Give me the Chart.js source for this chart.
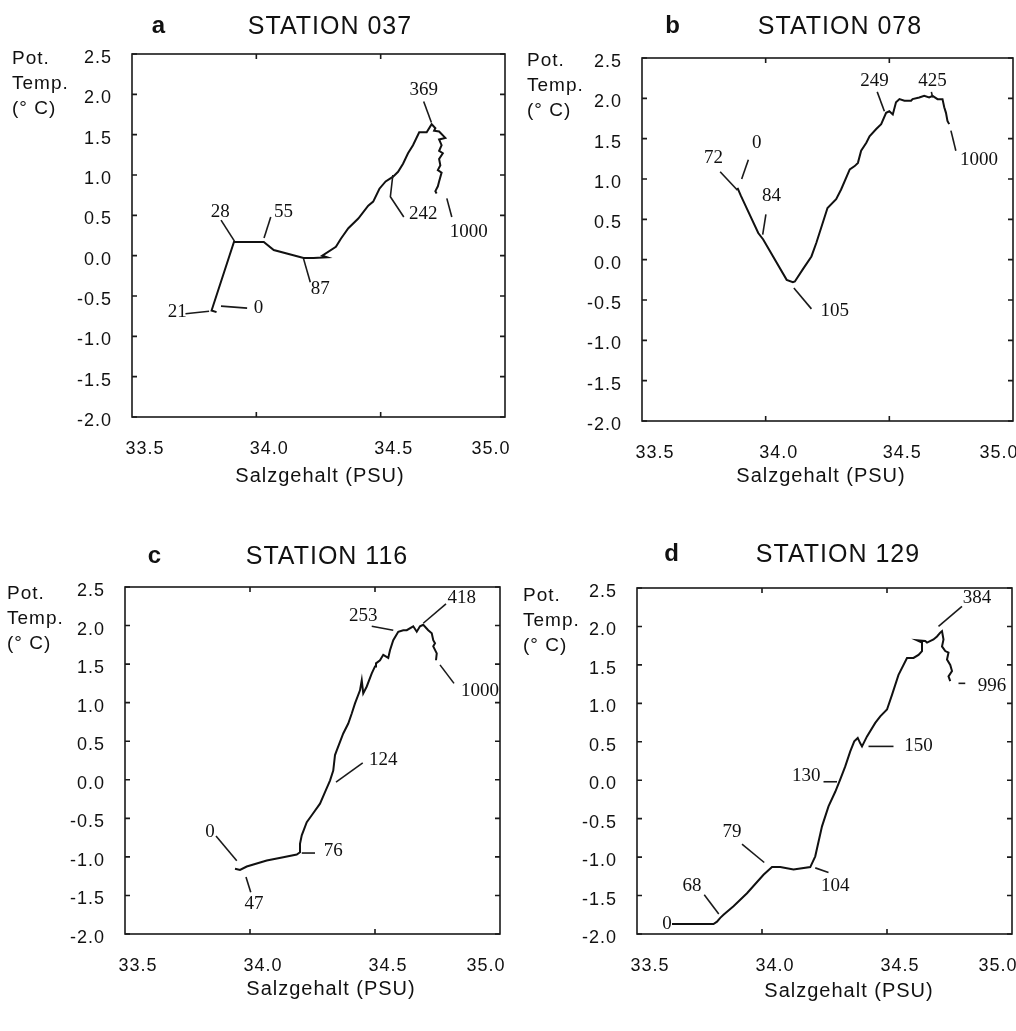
<!DOCTYPE html>
<html>
<head>
<meta charset="utf-8">
<script src="https://cdn.jsdelivr.net/npm/chart.js@4.4.1/dist/chart.umd.min.js"></script>
<style>
body { margin: 0; background: #fff; }
#page { position: relative; width: 1016px; height: 1031px; overflow: hidden; font-family: "Liberation Sans", Arial, sans-serif; color: #111; }
canvas { position: absolute; }
.t { position: absolute; transform: translate(-50%, -50%); white-space: nowrap; letter-spacing: 1px; }
.letter { font-weight: bold; font-size: 24px; }
.station { font-size: 25px; }
.xt { font-size: 20px; }
.yt { position: absolute; font-size: 19px; line-height: 25px; letter-spacing: 1px; }
</style>
</head>
<body>
<div id="page">
  <canvas id="st037" width="540" height="470" style="left:0;top:0"></canvas>
  <canvas id="st078" width="500" height="470" style="left:516px;top:0"></canvas>
  <canvas id="st116" width="540" height="500" style="left:0;top:500px"></canvas>
  <canvas id="st129" width="500" height="500" style="left:516px;top:500px"></canvas>

  <div class="t letter" style="left:159px;top:25px">a</div>
  <div class="t station" style="left:330px;top:25px">STATION 037</div>
  <div class="t letter" style="left:673px;top:25px">b</div>
  <div class="t station" style="left:840px;top:25px">STATION 078</div>
  <div class="t letter" style="left:155px;top:555px">c</div>
  <div class="t station" style="left:327px;top:555px">STATION 116</div>
  <div class="t letter" style="left:672px;top:553px">d</div>
  <div class="t station" style="left:838px;top:553px">STATION 129</div>

  <div class="yt" style="left:12px;top:45px">Pot.<br>Temp.<br>(° C)</div>
  <div class="yt" style="left:527px;top:47px">Pot.<br>Temp.<br>(° C)</div>
  <div class="yt" style="left:7px;top:580px">Pot.<br>Temp.<br>(° C)</div>
  <div class="yt" style="left:523px;top:582px">Pot.<br>Temp.<br>(° C)</div>

  <div class="t xt" style="left:320px;top:475px">Salzgehalt (PSU)</div>
  <div class="t xt" style="left:821px;top:475px">Salzgehalt (PSU)</div>
  <div class="t xt" style="left:331px;top:988px">Salzgehalt (PSU)</div>
  <div class="t xt" style="left:849px;top:990px">Salzgehalt (PSU)</div>
</div>
<script>
// Achsen
const xTickValues = [33.5, 34.0, 34.5, 35.0];
const xTickLabels = ['33.5', '34.0', '34.5', '35.0'];
const yTickValues = [-2.0, -1.5, -1.0, -0.5, 0.0, 0.5, 1.0, 1.5, 2.0, 2.5];
const yTickLabels = ['-2.0', '-1.5', '-1.0', '-0.5', '0.0', '0.5', '1.0', '1.5', '2.0', '2.5'];

// Station 037 (a)
const salt037 = [33.84, 33.82, 33.91, 34.03, 34.07, 34.19, 34.23, 34.285, 34.265, 34.32, 34.34, 34.37, 34.41, 34.45, 34.47, 34.495, 34.52, 34.55, 34.57, 34.59, 34.61, 34.63, 34.655, 34.685, 34.705, 34.72, 34.715, 34.735, 34.76, 34.735, 34.745, 34.735, 34.75, 34.735, 34.74, 34.73, 34.745, 34.735, 34.73, 34.72, 34.725];
const temp037 = [-0.70, -0.68, 0.17, 0.17, 0.07, -0.03, -0.03, -0.02, 0.00, 0.11, 0.21, 0.34, 0.46, 0.62, 0.67, 0.83, 0.92, 0.98, 1.04, 1.14, 1.27, 1.37, 1.53, 1.53, 1.63, 1.58, 1.55, 1.54, 1.46, 1.44, 1.37, 1.30, 1.27, 1.20, 1.12, 1.06, 1.03, 0.92, 0.86, 0.80, 0.77];
const depths037 = [
  { text: '0', at: [34.009, -0.65], line: [[33.858, -0.625], [33.963, -0.65]] },
  { text: '21', at: [33.682, -0.70], line: [[33.715, -0.72], [33.81, -0.69]] },
  { text: '28', at: [33.855, 0.54], line: [[33.858, 0.44], [33.912, 0.18]] },
  { text: '55', at: [34.109, 0.54], line: [[34.058, 0.48], [34.031, 0.22]] },
  { text: '87', at: [34.257, -0.41], line: [[34.19, -0.04], [34.217, -0.33]] },
  { text: '242', at: [34.671, 0.52], line: [[34.549, 1.0], [34.539, 0.73], [34.593, 0.48]] },
  { text: '369', at: [34.673, 2.05], line: [[34.673, 1.91], [34.704, 1.65]] },
  { text: '1000', at: [34.854, 0.29], line: [[34.766, 0.71], [34.786, 0.48]] }
];

// Station 078 (b)
const salt078 = [33.886, 33.90, 33.97, 33.99, 34.085, 34.11, 34.118, 34.15, 34.185, 34.205, 34.25, 34.285, 34.305, 34.34, 34.36, 34.373, 34.386, 34.407, 34.42, 34.447, 34.467, 34.487, 34.50, 34.514, 34.527, 34.541, 34.561, 34.588, 34.594, 34.621, 34.641, 34.661, 34.675, 34.695, 34.715, 34.722, 34.729, 34.735, 34.742];
const temp078 = [0.89, 0.79, 0.33, 0.25, -0.25, -0.28, -0.27, -0.12, 0.04, 0.21, 0.64, 0.75, 0.87, 1.12, 1.16, 1.20, 1.35, 1.45, 1.53, 1.62, 1.68, 1.82, 1.84, 1.80, 1.95, 1.99, 1.97, 1.97, 1.99, 2.01, 2.03, 2.01, 2.03, 1.99, 1.99, 1.89, 1.82, 1.72, 1.68];
const depths078 = [
  { text: '72', at: [33.789, 1.26], line: [[33.816, 1.09], [33.886, 0.86]] },
  { text: '0', at: [33.964, 1.45], line: [[33.93, 1.24], [33.903, 1.0]] },
  { text: '84', at: [34.024, 0.79], line: [[34.001, 0.56], [33.988, 0.31]] },
  { text: '105', at: [34.279, -0.64], line: [[34.114, -0.35], [34.185, -0.61]] },
  { text: '249', at: [34.44, 2.22], line: [[34.451, 2.08], [34.48, 1.84]] },
  { text: '425', at: [34.675, 2.22], line: [[34.67, 2.08], [34.675, 2.01]] },
  { text: '1000', at: [34.863, 1.24], line: [[34.749, 1.60], [34.769, 1.35]] }
];

// Station 116 (c)
const salt116 = [33.94, 33.96, 33.987, 34.067, 34.133, 34.187, 34.20, 34.20, 34.207, 34.227, 34.247, 34.28, 34.30, 34.32, 34.333, 34.34, 34.347, 34.373, 34.393, 34.407, 34.42, 34.44, 34.447, 34.453, 34.467, 34.487, 34.50, 34.504, 34.52, 34.533, 34.553, 34.56, 34.573, 34.593, 34.613, 34.627, 34.653, 34.667, 34.68, 34.693, 34.713, 34.727, 34.733, 34.74, 34.733, 34.747, 34.744];
const temp116 = [-1.155, -1.17, -1.125, -1.047, -1.004, -0.969, -0.94, -0.83, -0.72, -0.55, -0.46, -0.31, -0.16, -0.01, 0.12, 0.32, 0.38, 0.60, 0.73, 0.86, 0.99, 1.16, 1.29, 1.12, 1.21, 1.38, 1.47, 1.51, 1.55, 1.62, 1.58, 1.68, 1.81, 1.92, 1.94, 1.94, 1.99, 1.92, 1.99, 2.01, 1.94, 1.90, 1.81, 1.77, 1.73, 1.64, 1.55];
const depths116 = [
  { text: '0', at: [33.84, -0.68], line: [[33.864, -0.73], [33.947, -1.05]] },
  { text: '47', at: [34.016, -1.61], line: [[33.984, -1.26], [34.003, -1.46]] },
  { text: '76', at: [34.333, -0.92], line: [[34.207, -0.95], [34.26, -0.95]] },
  { text: '124', at: [34.533, 0.25], line: [[34.344, -0.03], [34.451, 0.22]] },
  { text: '253', at: [34.453, 2.12], line: [[34.487, 1.99], [34.573, 1.94]] },
  { text: '418', at: [34.847, 2.36], line: [[34.693, 2.03], [34.784, 2.28]] },
  { text: '1000', at: [34.92, 1.15], line: [[34.76, 1.49], [34.816, 1.25]] }
];

// Station 129 (d)
const salt129 = [33.64, 33.806, 33.82, 33.833, 33.846, 33.886, 33.94, 34.006, 34.04, 34.073, 34.126, 34.193, 34.213, 34.24, 34.266, 34.293, 34.313, 34.333, 34.353, 34.369, 34.383, 34.393, 34.40, 34.42, 34.453, 34.473, 34.50, 34.52, 34.546, 34.58, 34.606, 34.626, 34.64, 34.64, 34.62, 34.653, 34.66, 34.686, 34.70, 34.713, 34.72, 34.726, 34.72, 34.733, 34.746, 34.74, 34.753, 34.76, 34.746, 34.753];
const temp129 = [-1.87, -1.87, -1.84, -1.79, -1.75, -1.64, -1.47, -1.23, -1.13, -1.13, -1.16, -1.13, -0.99, -0.60, -0.34, -0.15, 0.01, 0.18, 0.375, 0.505, 0.55, 0.48, 0.44, 0.57, 0.745, 0.83, 0.92, 1.11, 1.37, 1.59, 1.59, 1.63, 1.68, 1.79, 1.82, 1.81, 1.79, 1.83, 1.87, 1.92, 1.94, 1.83, 1.74, 1.68, 1.66, 1.57, 1.50, 1.42, 1.35, 1.29];
const depths129 = [
  { text: '0', at: [33.62, -1.87], line: [] },
  { text: '68', at: [33.72, -1.38], line: [[33.769, -1.49], [33.827, -1.74]] },
  { text: '79', at: [33.88, -0.67], line: [[33.92, -0.83], [34.009, -1.07]] },
  { text: '104', at: [34.293, -1.38], line: [[34.213, -1.14], [34.266, -1.20]] },
  { text: '130', at: [34.177, 0.05], line: [[34.246, -0.02], [34.30, -0.02]] },
  { text: '150', at: [34.626, 0.45], line: [[34.426, 0.44], [34.526, 0.44]] },
  { text: '384', at: [34.86, 2.37], line: [[34.706, 2.0], [34.80, 2.26]] },
  { text: '996', at: [34.92, 1.22], line: [[34.786, 1.26], [34.813, 1.26]] }
];

function findLabel(values, labels, v) {
  const i = values.findIndex(t => Math.abs(t - v) < 1e-6);
  return i < 0 ? '' : labels[i];
}

// Rahmen, Innenticks und Tiefenbeschriftungen
function decor(notes) {
  return {
    id: 'decor',
    beforeDraw(chart) {
      chart.ctx.letterSpacing = '1px';
    },
    afterDraw(chart) {
      const { ctx, chartArea: a, scales: { x, y } } = chart;
      ctx.save();
      ctx.letterSpacing = '0px';
      ctx.strokeStyle = '#1a1a1a';
      ctx.lineWidth = 1.6;
      ctx.strokeRect(a.left, a.top, a.width, a.height);
      ctx.beginPath();
      x.ticks.forEach(t => {
        const px = x.getPixelForValue(t.value);
        if (px - a.left < 3 || a.right - px < 3) return;
        ctx.moveTo(px, a.bottom); ctx.lineTo(px, a.bottom - 5);
        ctx.moveTo(px, a.top); ctx.lineTo(px, a.top + 5);
      });
      y.ticks.forEach(t => {
        const py = y.getPixelForValue(t.value);
        ctx.moveTo(a.left, py); ctx.lineTo(a.left + 5, py);
        ctx.moveTo(a.right, py); ctx.lineTo(a.right - 5, py);
      });
      ctx.stroke();

      ctx.lineWidth = 1.6;
      ctx.font = '19px "Liberation Serif", "Times New Roman", serif';
      ctx.fillStyle = '#111';
      ctx.textAlign = 'center';
      ctx.textBaseline = 'middle';
      notes.forEach(n => {
        if (n.line.length) {
          ctx.beginPath();
          n.line.forEach(([s, t], i) => {
            const px = x.getPixelForValue(s), py = y.getPixelForValue(t);
            if (i) ctx.lineTo(px, py); else ctx.moveTo(px, py);
          });
          ctx.stroke();
        }
        ctx.fillText(n.text, x.getPixelForValue(n.at[0]), y.getPixelForValue(n.at[1]));
      });
      ctx.restore();
    }
  };
}

function drawStation(id, salt, temp, notes, pad) {
  const tickFont = { family: '"Liberation Sans", Arial, sans-serif', size: 18 };
  new Chart(document.getElementById(id), {
    type: 'scatter',
    data: {
      datasets: [{
        data: salt.map((s, i) => ({ x: s, y: temp[i] })),
        showLine: true,
        borderColor: '#111',
        borderWidth: 2,
        pointRadius: 0,
        tension: 0
      }]
    },
    options: {
      responsive: false,
      animation: false,
      events: [],
      layout: { padding: pad },
      plugins: { legend: { display: false }, tooltip: { enabled: false } },
      scales: {
        x: {
          type: 'linear',
          min: xTickValues[0],
          max: xTickValues[xTickValues.length - 1],
          grid: { display: false, drawTicks: false },
          border: { display: false },
          ticks: {
            stepSize: 0.5, padding: 21, labelOffset: 13, maxRotation: 0, autoSkip: false,
            color: '#111', font: tickFont,
            // letztes Label sitzt im Original links vom Tick
            callback: (v, i, all) => findLabel(xTickValues, xTickLabels, v) + (i === all.length - 1 ? '         ' : '')
          },
          afterFit(s) { s.height = 40; s.paddingLeft = 0; s.paddingRight = 0; }
        },
        y: {
          min: yTickValues[0],
          max: yTickValues[yTickValues.length - 1],
          grid: { display: false, drawTicks: false },
          border: { display: false },
          ticks: {
            stepSize: 0.5, padding: 20, labelOffset: 4, autoSkip: false,
            color: '#111', font: tickFont,
            callback: v => findLabel(yTickValues, yTickLabels, v)
          },
          afterFit(s) { s.width = 60; }
        }
      }
    },
    plugins: [decor(notes)]
  });
}

drawStation('st037', salt037, temp037, depths037, { left: 72, right: 35, top: 54, bottom: 13 });
drawStation('st078', salt078, temp078, depths078, { left: 66, right: 3, top: 58, bottom: 9 });
drawStation('st116', salt116, temp116, depths116, { left: 65, right: 40, top: 87, bottom: 26 });
drawStation('st129', salt129, temp129, depths129, { left: 61, right: 4, top: 88, bottom: 26 });
</script>
</body>
</html>
